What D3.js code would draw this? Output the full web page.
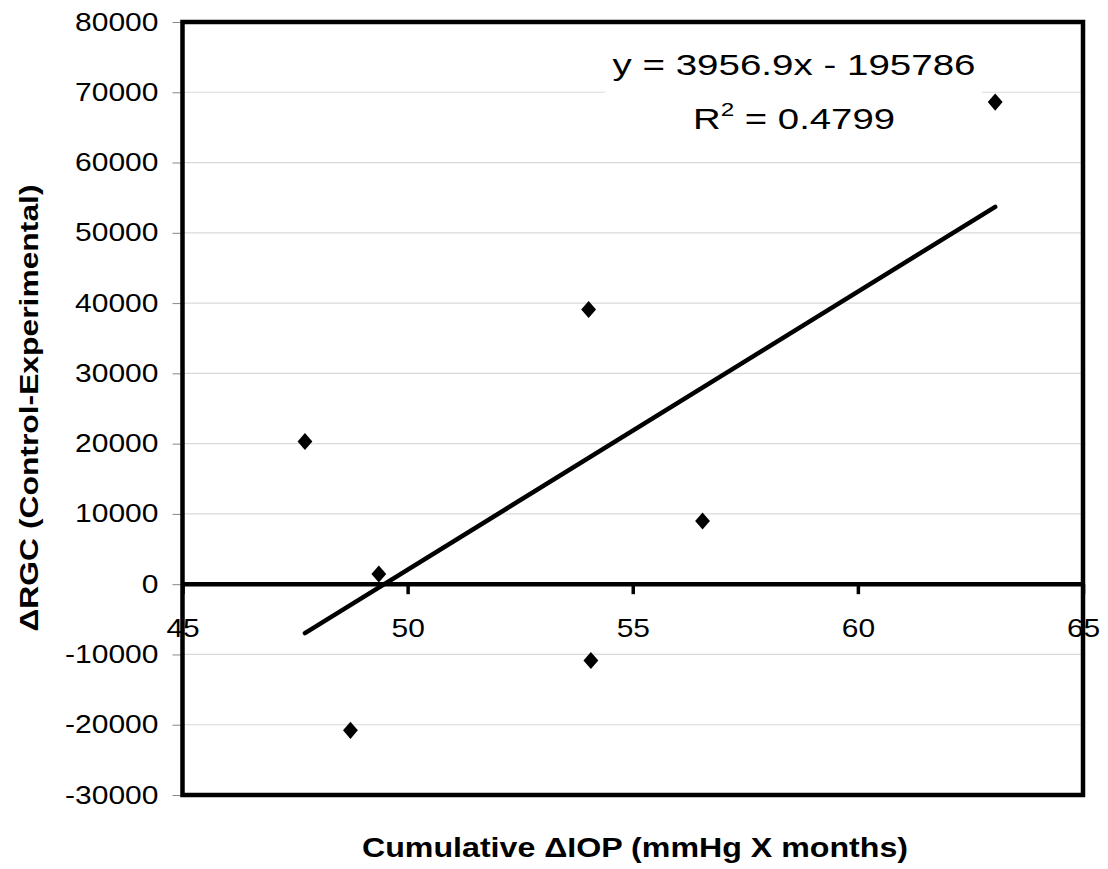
<!DOCTYPE html>
<html>
<head>
<meta charset="utf-8">
<script src="https://cdn.jsdelivr.net/npm/d3@7"></script>
<style>
  body { margin: 0; background: #fff; }
  text { font-family: "Liberation Sans", Arial, sans-serif; fill: #000; }
</style>
</head>
<body>
<script>
// data
var iopValues = [47.72, 49.36, 48.73, 54.02, 54.07, 56.55, 63.05];
var rgcValues = [20300, 1450, -20800, 39100, -10850, 9000, 68600];
var xTicks = [45, 50, 55, 60, 65];
var yTicks = [-30000, -20000, -10000, 0, 10000, 20000, 30000, 40000, 50000, 60000, 70000, 80000];
var slope = 3956.9, intercept = -195786;
var eqLine = "y = 3956.9x - 195786";
var r2Value = "0.4799";

var W = 1108, H = 869;
var margin = { top: 22, right: 25, bottom: 74, left: 182.5 },
    width = 1083 - margin.left,
    height = 795 - margin.top;

var svg = d3.select("body").append("svg")
    .attr("width", W)
    .attr("height", H)
    .append("g")
    .attr("transform", "translate(" + margin.left + "," + margin.top + ")");

var xScale = d3.scaleLinear().domain([45, 65]).range([0, width]);
var yScale = d3.scaleLinear().domain([-30000, 80000]).range([height, 0]);

// stretch text sideways like the original
function stretch(sel, k) {
  sel.each(function () {
    var w = this.getComputedTextLength();
    this.setAttribute("textLength", w * k);
    this.setAttribute("lengthAdjust", "spacingAndGlyphs");
  });
}

// gridlines
svg.selectAll(".grid")
    .data(yTicks.filter(d => d != 0 && d != 80000 && d != -30000))
    .enter().append("line")
    .attr("class", "grid")
    .attr("x1", 0).attr("x2", width)
    .attr("y1", d => yScale(d)).attr("y2", d => yScale(d))
    .attr("stroke", "#d9d9d9")
    .attr("stroke-width", 1.2);

// white box behind the trendline label
svg.append("rect")
    .attr("x", 605 - margin.left).attr("y", 38 - margin.top)
    .attr("width", 377).attr("height", 106)
    .attr("fill", "#fff");

var eq = svg.append("text")
    .attr("x", 794 - margin.left).attr("y", 75 - margin.top)
    .attr("text-anchor", "middle")
    .style("font-size", "30px")
    .text(eqLine);
eq.attr("textLength", 363).attr("lengthAdjust", "spacingAndGlyphs");

var r2 = svg.append("text")
    .attr("x", 794 - margin.left).attr("y", 129 - margin.top)
    .attr("text-anchor", "middle")
    .style("font-size", "30px");
r2.append("tspan").text("R");
r2.append("tspan").attr("dy", -13).style("font-size", "19px").text("2");
r2.append("tspan").attr("dy", 13).text(" = " + r2Value);
r2.attr("textLength", 202).attr("lengthAdjust", "spacingAndGlyphs");

// y axis: ticks outside on the left, gray
var yAxis = d3.axisLeft(yScale).tickValues(yTicks).tickSize(10).tickPadding(14).tickFormat(d => String(d));
var gy = svg.append("g").attr("class", "y axis").call(yAxis);
gy.select(".domain").remove();
gy.selectAll(".tick line").attr("stroke", "#888").attr("stroke-width", 1);
gy.selectAll(".tick text")
    .attr("dy", null).attr("y", 8)
    .style("font-size", "25px")
    .call(stretch, 1.2);

// x axis sits on the zero line
var xAxis = d3.axisBottom(xScale).tickValues(xTicks).tickSize(10).tickPadding(22);
var gx = svg.append("g")
    .attr("class", "x axis")
    .attr("transform", "translate(0," + yScale(0) + ")")
    .call(xAxis);
gx.select(".domain").attr("stroke", "#000").attr("stroke-width", 4.5).attr("d", "M0,0H" + width);
gx.selectAll(".tick line").attr("stroke", "#000").attr("stroke-width", 3.5);
gx.selectAll(".tick text")
    .style("font-size", "26px")
    .attr("dy", null).attr("y", 53)
    .call(stretch, 1.15);

// trend line over the range of the data
var xExt = d3.extent(iopValues);
svg.append("line")
    .attr("x1", xScale(xExt[0])).attr("y1", yScale(slope * xExt[0] + intercept))
    .attr("x2", xScale(xExt[1])).attr("y2", yScale(slope * xExt[1] + intercept))
    .attr("stroke", "#000")
    .attr("stroke-width", 4.5)
    .attr("stroke-linecap", "round");

// diamonds
var points = iopValues.map((x, i) => ({ x: x, y: rgcValues[i] }));
svg.selectAll(".dot")
    .data(points)
    .enter().append("path")
    .attr("class", "dot")
    .attr("d", d3.symbol().type(d3.symbolSquare).size(110))
    .attr("transform", d => "translate(" + xScale(d.x) + "," + yScale(d.y) + ") scale(1,1.15) rotate(45)")
    .attr("fill", "#000");

// frame
svg.append("rect")
    .attr("x", 0).attr("y", 0)
    .attr("width", width).attr("height", height)
    .attr("fill", "none")
    .attr("stroke", "#000")
    .attr("stroke-width", 4.5);

// axis titles
svg.append("text")
    .attr("x", 635 - margin.left).attr("y", 857 - margin.top)
    .attr("text-anchor", "middle")
    .style("font-size", "27px").style("font-weight", "bold")
    .attr("textLength", 546).attr("lengthAdjust", "spacingAndGlyphs")
    .text("Cumulative ΔIOP (mmHg X months)");

svg.append("text")
    .attr("transform", "translate(" + (38 - margin.left) + "," + (408 - margin.top) + ") rotate(-90)")
    .attr("text-anchor", "middle")
    .style("font-size", "26px").style("font-weight", "bold")
    .attr("textLength", 447).attr("lengthAdjust", "spacingAndGlyphs")
    .text("ΔRGC (Control-Experimental)");
</script>
</body>
</html>
